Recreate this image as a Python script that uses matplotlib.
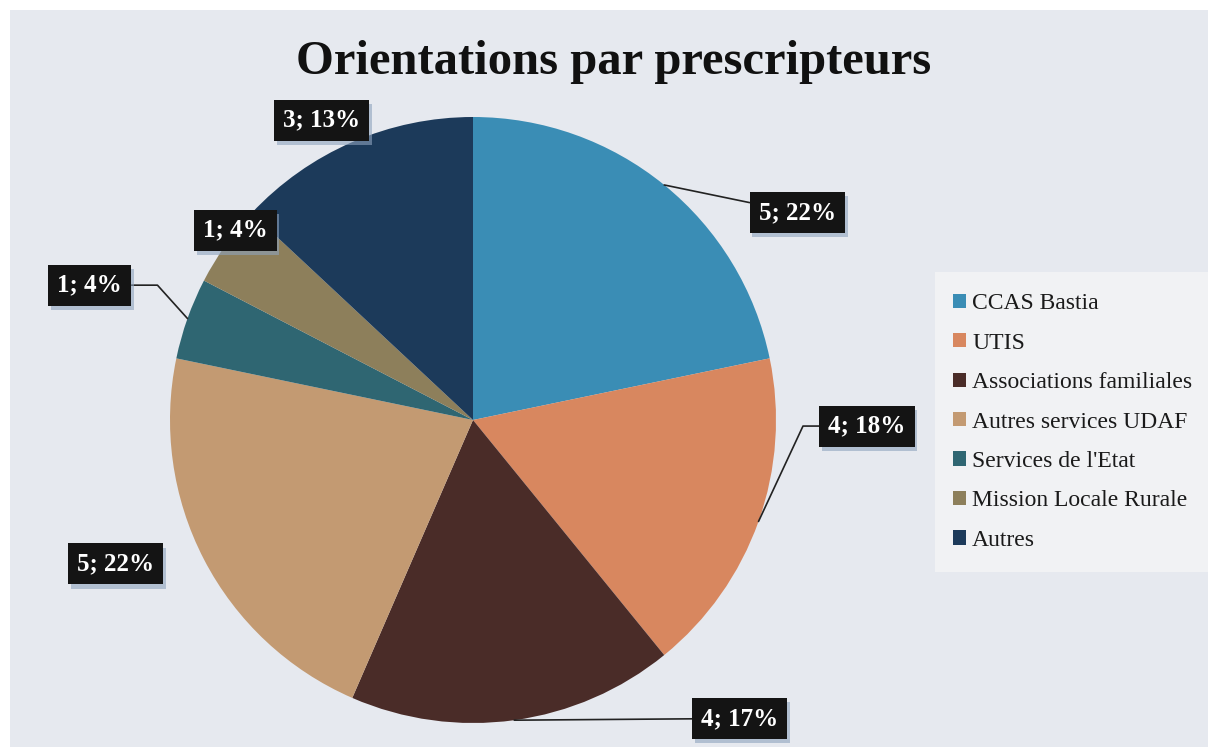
import matplotlib
matplotlib.use("Agg")
import matplotlib.pyplot as plt
import matplotlib.patheffects as pe
from matplotlib.patches import Patch, Rectangle
import numpy as np

# data
categories = ["CCAS Bastia", "UTIS", "Associations familiales", "Autres services UDAF",
              "Services de l'Etat", "Mission Locale Rurale", "Autres"]
values = [5, 4, 4, 5, 1, 1, 3]
pct_labels = ["22%", "18%", "17%", "22%", "4%", "4%", "13%"]
colors = ["#3a8db5", "#d8875f", "#4a2c28", "#c39a72", "#2f6672", "#8d7f5b", "#1c3a5a"]

# label box centres (data coords, pie radius = 1), leader style per label
label_pos = [(1.07, 0.685), (1.30, -0.02), (0.88, -0.985), (-1.18, -0.475),
             (-1.265, 0.445), (-0.785, 0.627), (-0.50, 0.99)]
leader = [True, True, True, False, True, False, False]
leader_style = ["arc3", "angle,angleA=0,angleB=65,rad=0", "arc3", None,
                "angle,angleA=0,angleB=132,rad=0", None, None]

W, H = 1208, 747
fig = plt.figure(figsize=(W / 100, H / 100), dpi=100)
fig.patch.set_facecolor("white")
# textured grey background of the scanned slide
fig.patches.append(Rectangle((10 / W, 0), 1, 1 - 10 / H, transform=fig.transFigure,
                             facecolor="#e6e9ef", edgecolor="none", zorder=-2))
fig.patches.append(Rectangle((935 / W, (H - 572) / H), (W - 935) / W, 300 / H,
                             transform=fig.transFigure, facecolor="#f1f2f4",
                             edgecolor="none", zorder=-1))

serif = "Liberation Serif"
shadow = [pe.SimplePatchShadow(offset=(2, -3), shadow_rgbFace="#8ea3bd", alpha=0.6),
          pe.Normal()]

cx, cy, r = 473, 420, 303
ax = fig.add_axes([(cx - r) / W, (H - cy - r) / H, 2 * r / W, 2 * r / H])
ax.set_facecolor("none")
wedges, _ = ax.pie(values, colors=colors, startangle=90, counterclock=False,
                   radius=1, wedgeprops=dict(linewidth=0))
ax.set_xlim(-1, 1)
ax.set_ylim(-1, 1)
ax.set_aspect("equal")
ax.axis("off")

for i, w in enumerate(wedges):
    mid = np.deg2rad((w.theta1 + w.theta2) / 2)
    px, py = np.cos(mid), np.sin(mid)
    tx, ty = label_pos[i]
    txt = f"{values[i]}; {pct_labels[i]}"
    box = dict(boxstyle="square,pad=0.36", facecolor="#141414", edgecolor="none")
    if leader[i]:
        t = ax.annotate(txt, xy=(px, py), xytext=(tx, ty), ha="center", va="center",
                        fontsize=18, fontweight="bold", family=serif, color="white",
                        zorder=5, bbox=box,
                        arrowprops=dict(arrowstyle="-", color="#222222", lw=1.2,
                                        connectionstyle=leader_style[i],
                                        shrinkA=0, shrinkB=0),
                        annotation_clip=False)
    else:
        t = ax.text(tx, ty, txt, ha="center", va="center", fontsize=18, fontweight="bold",
                    family=serif, color="white", zorder=5, bbox=box, clip_on=False)
    t.get_bbox_patch().set_path_effects(shadow)

fig.text(614 / W, 1 - 62 / H, "Orientations par prescripteurs", ha="center", va="center",
         fontsize=35, fontweight="bold", family=serif, color="#111111")

handles = [Patch(facecolor=c, edgecolor="none") for c in colors]
leg = fig.legend(handles, categories, loc="center left",
                 bbox_to_anchor=(932 / W, 1 - 422 / H), frameon=False,
                 prop=dict(family=serif, size=17), handlelength=0.55, handleheight=0.55,
                 handletextpad=0.25, labelspacing=0.78, labelcolor="#1a1a1a")

fig.savefig("out.png", dpi=100, facecolor=fig.get_facecolor())
